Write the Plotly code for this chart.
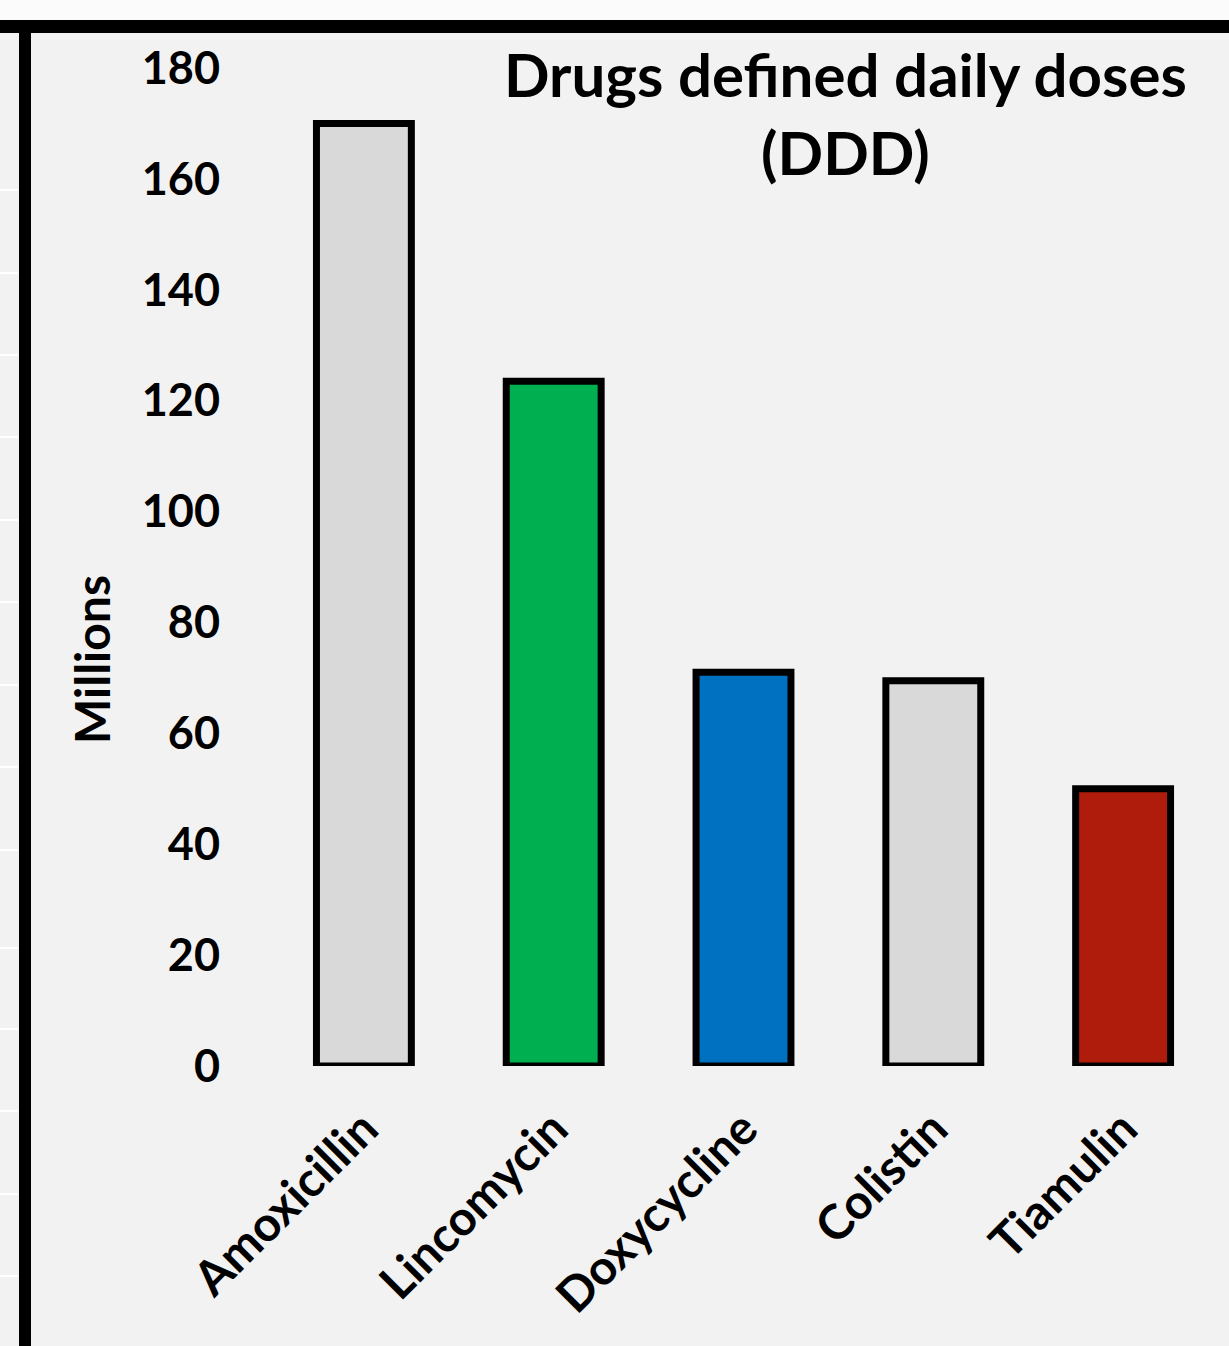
import plotly.graph_objects as go

# Defined daily doses per drug, in millions
drugs = ["Amoxicillin", "Lincomycin", "Doxycycline", "Colistin", "Tiamulin"]
ddd_millions = [170, 123.5, 71, 69.5, 50]
bar_colors = ["#d9d9d9", "#00b050", "#0070c0", "#d9d9d9", "#b01c0c"]
y_ticks = [0, 20, 40, 60, 80, 100, 120, 140, 160, 180]

W, H = 1229, 1346
L, R, T, B = 269, 1218, 68, 1066  # plot area in pixels

FONT = "Lato"


def px(x):
    return (x - L) / (R - L)


def py(y):
    return (B - y) / (B - T)


fig = go.Figure(
    go.Bar(
        x=drugs,
        y=ddd_millions,
        marker=dict(color=bar_colors, line=dict(color="black", width=7)),
        hoverinfo="x+y",
    )
)

shapes = []
# white strip along the top edge
shapes.append(dict(type="rect", xref="paper", yref="paper",
                   x0=px(-5), x1=px(W + 5), y0=py(20), y1=py(-5),
                   fillcolor="#fbfbfb", line=dict(width=0), layer="below"))
# thick black frame: top and left
shapes.append(dict(type="rect", xref="paper", yref="paper",
                   x0=px(-5), x1=px(W + 5), y0=py(33), y1=py(20),
                   fillcolor="black", line=dict(width=0)))
shapes.append(dict(type="rect", xref="paper", yref="paper",
                   x0=px(19), x1=px(31), y0=py(H + 5), y1=py(33),
                   fillcolor="black", line=dict(width=0)))
# thin white rules on the left margin
for yy in [190, 273, 355, 437, 520, 602, 685, 767, 850, 948, 1029, 1111, 1194, 1276]:
    shapes.append(dict(type="line", xref="paper", yref="paper",
                       x0=px(-5), x1=px(18), y0=py(yy), y1=py(yy),
                       line=dict(color="white", width=2)))

fig.update_layout(
    width=W,
    height=H,
    margin=dict(l=L, r=W - R, t=T, b=H - B, pad=0),
    paper_bgcolor="#f2f2f2",
    plot_bgcolor="#f2f2f2",
    bargap=0.5,
    showlegend=False,
    font=dict(family=FONT, color="black"),
    shapes=shapes,
    xaxis=dict(
        tickangle=-45,
        tickfont=dict(family=FONT, size=48, weight="bold"),
        showgrid=False,
        showline=False,
        zeroline=False,
        ticks="",
        ticklabelstandoff=24,
    ),
    yaxis=dict(
        range=[0, 180],
        tickvals=y_ticks,
        tickfont=dict(family=FONT, size=45, weight="bold"),
        showgrid=False,
        showline=False,
        zeroline=False,
        ticks="",
        ticklabelstandoff=48,
    ),
    annotations=[
        dict(
            text="Drugs defined daily doses<br>(DDD)",
            xref="paper", yref="paper",
            x=px(845), y=py(36),
            xanchor="center", yanchor="top",
            showarrow=False,
            align="center",
            font=dict(family=FONT, size=60, weight="bold", color="black"),
        ),
        dict(
            text="Millions",
            xref="paper", yref="paper",
            x=px(92), y=py(660),
            xanchor="center", yanchor="middle",
            textangle=-90,
            showarrow=False,
            font=dict(family=FONT, size=48, weight="bold", color="black"),
        ),
    ],
)

fig.write_html("out.html")
